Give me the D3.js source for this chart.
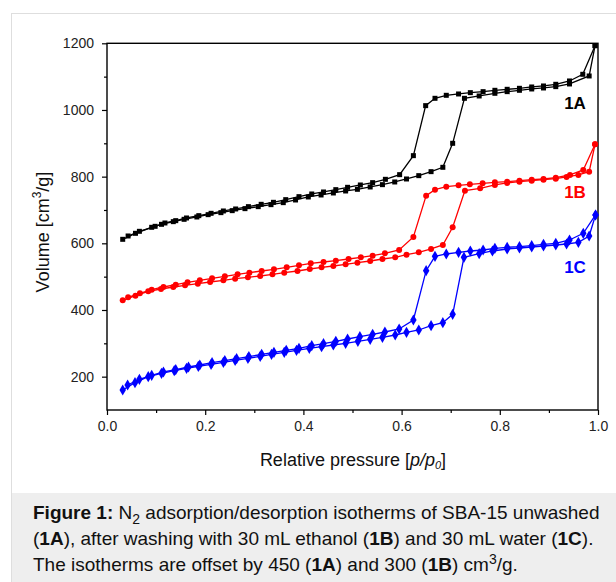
<!DOCTYPE html>
<html>
<head>
<meta charset="utf-8">
<script src="https://cdn.jsdelivr.net/npm/d3@7"></script>
<style>
  body { margin: 0; background: #fff; font-family: "Liberation Sans", Arial, sans-serif; }
  #frame { position: absolute; left: 11px; top: 13px; width: 620px; height: 590px;
           border: 1px solid #dedede; background: #fff; }
  #caption { position: absolute; left: 12px; top: 493px; width: 620px; height: 100px;
             background: #eeeeee; }
  #caption p { margin: 0; position: absolute; left: 21px; top: 7px; font-size: 19px;
               line-height: 26px; color: #111; white-space: nowrap; }
  sub, sup { font-size: 14px; line-height: 0; }
  #chart { position: absolute; left: 0; top: 0; }
  svg text { font-family: "Liberation Sans", Arial, sans-serif; }
</style>
</head>
<body>
<div id="frame"></div>
<div id="caption"><p><b>Figure 1:</b> N<sub>2</sub> adsorption/desorption isotherms of SBA-15 unwashed<br>(<b>1A</b>), after washing with 30 mL ethanol (<b>1B</b>) and 30 mL water (<b>1C</b>).<br>The isotherms are offset by 450 (<b>1A</b>) and 300 (<b>1B</b>) cm<sup>3</sup>/g.</p></div>
<div id="chart"></div>
<script>
// tick values
var xTicks = [0, 0.2, 0.4, 0.6, 0.8, 1.0];
var xMinor = [0.1, 0.3, 0.5, 0.7, 0.9];
var yTicks = [200, 400, 600, 800, 1000, 1200];
var yMinor = [300, 500, 700, 900, 1100];

// isotherm 1A (offset +450), [p/p0, volume]
var ads1A = [[0.032,612],[0.058,630],[0.091,648],[0.111,657],[0.135,665],[0.157,672],[0.183,679],[0.206,686],
  [0.232,692],[0.255,698],[0.281,704],[0.308,710],[0.334,716],[0.359,722],[0.384,730],[0.410,739],[0.436,745],
  [0.461,751],[0.486,757],[0.510,762],[0.536,769],[0.561,776],[0.586,784],[0.610,793],[0.635,803],[0.660,815],
  [0.684,828],[0.704,900],[0.728,1035],[0.758,1042],[0.790,1050],[0.815,1055],[0.840,1059],[0.865,1063],
  [0.889,1066],[0.914,1070],[0.942,1078],[0.982,1102],[0.994,1193]];
var des1A = [[0.043,622],[0.066,636],[0.098,651],[0.118,661],[0.140,668],[0.162,676],[0.187,683],[0.212,690],
  [0.237,697],[0.262,703],[0.288,710],[0.314,717],[0.339,723],[0.364,731],[0.391,740],[0.417,748],[0.441,754],
  [0.466,761],[0.490,768],[0.516,775],[0.541,782],[0.567,792],[0.596,806],[0.624,863],[0.649,1013],[0.668,1035],
  [0.691,1044],[0.716,1048],[0.740,1052],[0.766,1055],[0.790,1059],[0.815,1062],[0.840,1065],[0.865,1069],
  [0.889,1072],[0.914,1077],[0.942,1087],[0.969,1107],[0.994,1193]];

// isotherm 1B (offset +300)
var ads1B = [[0.032,429],[0.058,443],[0.084,456],[0.110,463],[0.135,469],[0.159,474],[0.185,479],[0.210,484],
  [0.237,489],[0.261,494],[0.287,498],[0.312,502],[0.337,507],[0.361,512],[0.388,517],[0.413,523],[0.437,528],
  [0.461,532],[0.486,537],[0.510,542],[0.536,547],[0.561,553],[0.587,558],[0.610,566],[0.635,573],[0.660,583],
  [0.684,595],[0.704,648],[0.729,758],[0.760,765],[0.790,775],[0.815,781],[0.840,785],[0.865,788],[0.889,791],
  [0.914,794],[0.936,799],[0.960,805],[0.982,815],[0.994,897]];
var des1B = [[0.043,438],[0.067,450],[0.091,461],[0.115,469],[0.140,476],[0.164,483],[0.189,489],[0.214,495],
  [0.240,501],[0.266,507],[0.290,512],[0.315,517],[0.340,522],[0.366,528],[0.391,534],[0.415,540],[0.441,544],
  [0.466,548],[0.492,553],[0.517,558],[0.541,563],[0.566,570],[0.595,580],[0.624,619],[0.650,743],[0.668,761],
  [0.691,770],[0.716,774],[0.739,777],[0.765,780],[0.790,783],[0.815,785],[0.840,788],[0.865,791],[0.889,793],
  [0.914,797],[0.943,805],[0.970,820],[0.994,897]];

// isotherm 1C
var ads1C = [[0.032,160],[0.057,182],[0.084,200],[0.111,210],[0.137,218],[0.162,225],[0.186,231],[0.212,237],
  [0.237,243],[0.261,249],[0.287,255],[0.312,261],[0.335,267],[0.361,273],[0.386,279],[0.412,285],[0.437,290],
  [0.461,295],[0.486,300],[0.511,306],[0.536,312],[0.561,318],[0.587,325],[0.610,333],[0.635,340],[0.660,353],
  [0.684,362],[0.704,387],[0.727,558],[0.758,569],[0.785,577],[0.815,583],[0.840,586],[0.865,589],[0.889,592],
  [0.914,595],[0.936,598],[0.960,603],[0.982,622],[0.995,685]];
var des1C = [[0.042,175],[0.066,192],[0.091,204],[0.115,214],[0.140,221],[0.166,229],[0.189,235],[0.214,242],
  [0.240,248],[0.264,254],[0.289,260],[0.315,267],[0.340,273],[0.365,279],[0.391,285],[0.417,293],[0.441,299],
  [0.466,306],[0.490,313],[0.515,320],[0.541,327],[0.566,334],[0.595,343],[0.624,370],[0.650,518],[0.668,561],
  [0.691,568],[0.716,573],[0.740,577],[0.766,580],[0.790,585],[0.815,588],[0.840,590],[0.865,593],[0.889,597],
  [0.914,600],[0.942,610],[0.970,630],[0.995,685]];

var labels = ["1A", "1B", "1C"];

var width = 616, height = 582;
var x = d3.scaleLinear().domain([0, 1]).range([107, 598]);
var y = d3.scaleLinear().domain([100, 1200]).range([410, 43.3]);

var svg = d3.select("#chart")
  .append("svg")
    .attr("width", width)
    .attr("height", height);

// axes, major and minor ticks
svg.append("g")
  .attr("transform", "translate(0," + y.range()[0] + ")")
  .call(d3.axisBottom(x).tickValues(xTicks).tickSize(5).tickPadding(6).tickFormat(d3.format(".1f")));
svg.append("g")
  .attr("transform", "translate(0," + y.range()[0] + ")")
  .call(d3.axisBottom(x).tickValues(xMinor).tickSize(3).tickFormat(""));
svg.append("g")
  .attr("transform", "translate(" + x.range()[0] + ",0)")
  .call(d3.axisLeft(y).tickValues(yTicks).tickSize(5).tickPadding(8).tickFormat(d3.format("d")));
svg.append("g")
  .attr("transform", "translate(" + x.range()[0] + ",0)")
  .call(d3.axisLeft(y).tickValues(yMinor).tickSize(3).tickFormat(""));

svg.selectAll(".domain").remove();
svg.selectAll(".tick line").attr("stroke", "#000").attr("stroke-width", 1.2);
svg.selectAll(".tick text").attr("fill", "#222").style("font-size", "14px");

// plot box
svg.append("rect")
  .attr("x", x.range()[0])
  .attr("y", y.range()[1])
  .attr("width", x.range()[1] - x.range()[0])
  .attr("height", y.range()[0] - y.range()[1])
  .attr("fill", "none")
  .attr("stroke", "#000")
  .attr("stroke-width", 1.4);

// axis titles
var xt = svg.append("text")
  .attr("x", 353)
  .attr("y", 466)
  .attr("text-anchor", "middle")
  .style("font-size", "18px")
  .attr("fill", "#111");
xt.append("tspan").text("Relative pressure [");
xt.append("tspan").style("font-style", "italic").text("p/p");
xt.append("tspan").style("font-style", "italic").style("font-size", "11px").attr("dy", 3).text("0");
xt.append("tspan").attr("dy", -3).text("]");

var yt = svg.append("text")
  .attr("transform", "translate(49,232) rotate(-90)")
  .attr("text-anchor", "middle")
  .style("font-size", "18px")
  .attr("fill", "#111");
yt.append("tspan").text("Volume [cm");
yt.append("tspan").style("font-size", "12px").attr("dy", -8).text("3");
yt.append("tspan").attr("dy", 8).text("/g]");

// series
var series = [
  {name: labels[0], color: "#000000", shape: d3.symbolSquare, size: 25, runs: [ads1A, des1A], ly: 109},
  {name: labels[1], color: "#ff0000", shape: d3.symbolCircle, size: 28, runs: [ads1B, des1B], ly: 198},
  {name: labels[2], color: "#0000ff", shape: d3.symbolDiamond, size: 36, runs: [ads1C, des1C], ly: 273}
];

var line = d3.line()
  .x(function(d) { return x(d[0]); })
  .y(function(d) { return y(d[1]); });

series.forEach(function(s) {
  s.runs.forEach(function(run) {
    svg.append("path")
      .datum(run)
      .attr("d", line)
      .attr("fill", "none")
      .attr("stroke", s.color)
      .attr("stroke-width", 1.3);
    svg.append("g").selectAll("path")
      .data(run)
      .enter()
      .append("path")
        .attr("transform", function(d) { return "translate(" + x(d[0]) + "," + y(d[1]) + ")"; })
        .attr("d", d3.symbol().type(s.shape).size(s.size))
        .attr("fill", s.color);
  });
  svg.append("text")
    .attr("x", 575)
    .attr("y", s.ly)
    .attr("text-anchor", "middle")
    .style("font-size", "17px")
    .style("font-weight", "bold")
    .attr("fill", s.color)
    .text(s.name);
});
</script>
</body>
</html>
